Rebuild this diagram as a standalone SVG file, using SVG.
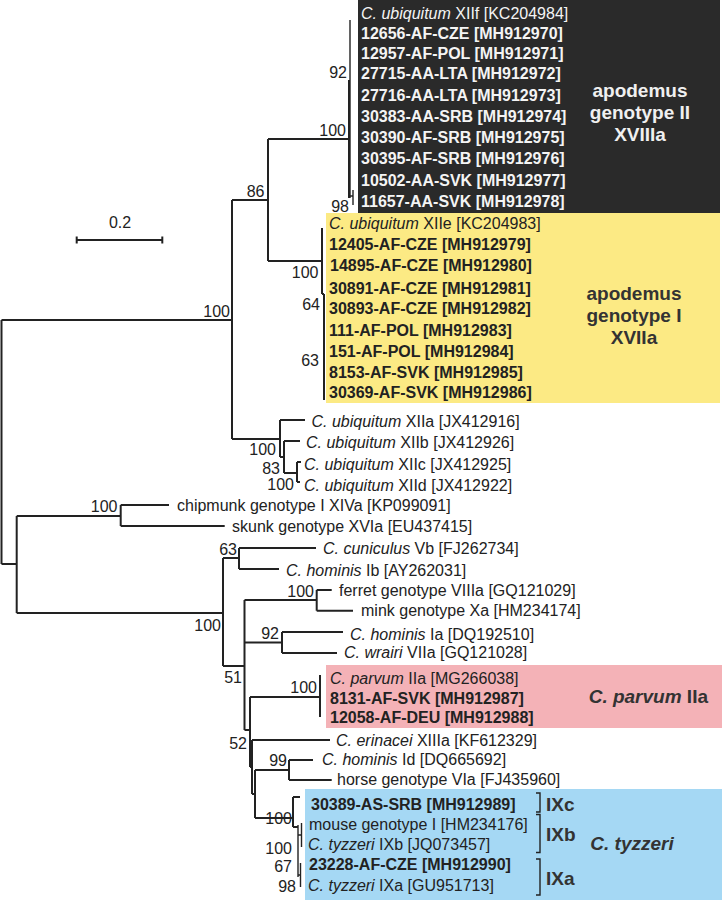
<svg xmlns="http://www.w3.org/2000/svg" width="722" height="900" viewBox="0 0 722 900">
<style>
text{font-family:"Liberation Sans",Arial,Helvetica,sans-serif;font-size:16px;fill:#222}
.b{font-weight:bold}
.i{font-style:italic}
.w{fill:#f4f4f4}
.bs{text-anchor:end}
.big{font-size:19px;font-weight:bold;fill:#333;text-anchor:middle}
.bigw{font-size:19px;font-weight:bold;fill:#f0f0f0;text-anchor:middle}
.ln{fill:none;stroke:#222;stroke-width:2}
.thin{fill:none;stroke:#222;stroke-width:1.4}
</style>
<rect width="722" height="900" fill="#ffffff"/>
<g id="box-apodemus-II"><rect x="358" y="0" width="362" height="213" fill="#2a2a2a"/>
<text class="bigw" x="640" y="97">apodemus</text><text class="bigw" x="640" y="119">genotype II</text><text class="bigw" x="640" y="141">XVIIIa</text></g>
<g id="box-apodemus-I"><rect x="326" y="213" width="394" height="190" fill="#fcea84"/>
<text class="big" x="634" y="300">apodemus</text><text class="big" x="634" y="322">genotype I</text><text class="big" x="634" y="344">XVIIa</text></g>
<g id="box-parvum"><rect x="326" y="665" width="396" height="63" fill="#f4b2b7"/>
<text class="big" x="708" y="703" style="text-anchor:end"><tspan class="i">C. parvum</tspan> IIa</text></g>
<g id="box-tyzzeri"><rect x="305" y="789" width="417" height="111" fill="#a5d8f4"/>
<text class="big" x="632" y="850"><tspan class="i">C. tyzzeri</tspan></text>
<path class="thin" d="M536,793 H540 V812 H536 M536,814.5 H540 V852.5 H536 M536,859 H540 V895 H536"/>
<text class="big" x="546" y="810.5" style="text-anchor:start">IXc</text>
<text class="big" x="546" y="840.5" style="text-anchor:start">IXb</text>
<text class="big" x="546" y="885" style="text-anchor:start">IXa</text></g>
<g id="connectors">
<path class="ln" d="M1.5,320 V564 M1.5,320 H232 M1.5,564 H16.7"/>
<path class="ln" d="M232,200 V439 M232,200 H268 M232,439 H280"/>
<path class="ln" d="M268,139 V261 M268,139 H349 M268,261 H322"/>
<path class="thin" d="M350,20 V198 M350,196 H353 M353,190 V205"/>
<path class="ln" d="M349,80 V198"/>
<path class="ln" d="M322,228 V294 M322,294 H324 M324,294 V400"/>
<path class="ln" d="M280,420 V457 M280,420 H305 M280,457 H284"/>
<path class="ln" d="M284,441 V473 M284,441 H300 M284,473 H297"/>
<path class="ln" d="M297,462 V482 M297,462 H301 M297,482 H300"/>
<path class="ln" d="M16.7,516 V613 M16.7,516 H120.7 M16.7,613 H223"/>
<path class="ln" d="M120.7,505 V526 M120.7,505 H169 M120.7,526 H224.7"/>
<path class="ln" d="M223,558 V666 M223,558 H239 M223,666 H244.5"/>
<path class="ln" d="M239,548 V569 M239,548 H316 M239,569 H279"/>
<path class="ln" d="M244.5,600 V730 M244.5,600 H316.7 M244.5,642.5 H282 M244.5,730 H250"/>
<path class="ln" d="M316.7,590 V610.7 M316.7,590 H331.7 M316.7,610.7 H353"/>
<path class="ln" d="M282,632 V653 M282,632 H343 M282,653 H337"/>
<path class="ln" d="M250,697 V767 M250,697 H320 M250,767 H252"/>
<path class="ln" d="M320,675 V717"/>
<path class="ln" d="M252,740 V794 M252,740 H330 M252,794 H255"/>
<path class="ln" d="M255,770 V818 M255,770 H289 M255,818 H293"/>
<path class="ln" d="M289,760 V780 M289,760 H313 M289,780 H331.7"/>
<path class="ln" d="M293,797 V827 M293,797 H300 M293,827 H298"/>
<path class="thin" d="M298,825 V877 M298,835 H301.5 M298,875 H300.5 M301.5,823 V847 M300.5,863 V887"/>
</g>
<g id="scale-bar"><path class="ln" d="M76.7,240 H162.3 M76.7,236.5 V243.5 M162.3,236.5 V243.5"/><text x="120" y="228" text-anchor="middle">0.2</text></g>
<g id="bootstrap">
<text class="bs" x="347" y="78">92</text>
<text class="bs" x="346" y="136">100</text>
<text class="bs" x="349" y="211.5">98</text>
<text class="bs" x="264.5" y="197">86</text>
<text class="bs" x="230" y="317">100</text>
<text class="bs" x="318.5" y="278">100</text>
<text class="bs" x="320" y="310">64</text>
<text class="bs" x="319" y="366">63</text>
<text class="bs" x="276" y="455">100</text>
<text class="bs" x="280" y="474">83</text>
<text class="bs" x="294" y="490">100</text>
<text class="bs" x="117.5" y="512">100</text>
<text class="bs" x="237" y="555">63</text>
<text class="bs" x="221" y="631">100</text>
<text class="bs" x="314" y="597">100</text>
<text class="bs" x="279" y="639">92</text>
<text class="bs" x="242" y="683">51</text>
<text class="bs" x="317" y="693">100</text>
<text class="bs" x="247" y="749">52</text>
<text class="bs" x="287" y="766">99</text>
<text class="bs" x="292" y="824">100</text>
<text class="bs" x="292" y="854">100</text>
<text class="bs" x="292" y="872">67</text>
<text class="bs" x="296" y="892">98</text>
</g>
<g id="tips-apodemus-II">
<text class="w" x="361" y="18.5"><tspan class="i">C. ubiquitum</tspan> XIIf [KC204984]</text>
<text class="w b" x="361" y="38.5">12656-AF-CZE [MH912970]</text>
<text class="w b" x="361" y="58.5">12957-AF-POL [MH912971]</text>
<text class="w b" x="361" y="78.5">27715-AA-LTA [MH912972]</text>
<text class="w b" x="361" y="100.5">27716-AA-LTA [MH912973]</text>
<text class="w b" x="361" y="121.5">30383-AA-SRB [MH912974]</text>
<text class="w b" x="361" y="142.5">30390-AF-SRB [MH912975]</text>
<text class="w b" x="361" y="164">30395-AF-SRB [MH912976]</text>
<text class="w b" x="361" y="185.5">10502-AA-SVK [MH912977]</text>
<text class="w b" x="361" y="207">11657-AA-SVK [MH912978]</text>
</g>
<g id="tips-apodemus-I">
<text x="329" y="228.5"><tspan class="i">C. ubiquitum</tspan> XIIe [KC204983]</text>
<text class="b" x="329" y="250">12405-AF-CZE [MH912979]</text>
<text class="b" x="330" y="271">14895-AF-CZE [MH912980]</text>
<text class="b" x="329" y="293.5">30891-AF-CZE [MH912981]</text>
<text class="b" x="329" y="314">30893-AF-CZE [MH912982]</text>
<text class="b" x="329" y="335.5">111-AF-POL [MH912983]</text>
<text class="b" x="329" y="356.5">151-AF-POL [MH912984]</text>
<text class="b" x="329" y="378">8153-AF-SVK [MH912985]</text>
<text class="b" x="329" y="398">30369-AF-SVK [MH912986]</text>
</g>
<g id="tips-ubiquitum">
<text x="311.5" y="426.5"><tspan class="i">C. ubiquitum</tspan> XIIa [JX412916]</text>
<text x="306" y="448"><tspan class="i">C. ubiquitum</tspan> XIIb [JX412926]</text>
<text x="304" y="469.5"><tspan class="i">C. ubiquitum</tspan> XIIc [JX412925]</text>
<text x="304" y="491"><tspan class="i">C. ubiquitum</tspan> XIId [JX412922]</text>
</g>
<g id="tip-chipmunk"><text x="177" y="510.5">chipmunk genotype I XIVa [KP099091]</text></g>
<g id="tip-skunk"><text x="232" y="531.5">skunk genotype XVIa [EU437415]</text></g>
<g id="tip-cuniculus"><text x="323" y="554"><tspan class="i">C. cuniculus</tspan> Vb [FJ262734]</text></g>
<g id="tip-hominis-Ib"><text x="286" y="575.5"><tspan class="i">C. hominis</tspan> Ib [AY262031]</text></g>
<g id="tip-ferret"><text x="339" y="595.5">ferret genotype VIIIa [GQ121029]</text></g>
<g id="tip-mink"><text x="361" y="616">mink genotype Xa [HM234174]</text></g>
<g id="tip-hominis-Ia"><text x="350" y="639.5"><tspan class="i">C. hominis</tspan> Ia [DQ192510]</text></g>
<g id="tip-wrairi"><text x="344" y="657.5"><tspan class="i">C. wrairi</tspan> VIIa [GQ121028]</text></g>
<g id="tips-parvum">
<text x="330" y="683.5"><tspan class="i">C. parvum</tspan> IIa [MG266038]</text>
<text class="b" x="330" y="703.5">8131-AF-SVK [MH912987]</text>
<text class="b" x="330" y="722.5">12058-AF-DEU [MH912988]</text>
</g>
<g id="tip-erinacei"><text x="336" y="746"><tspan class="i">C. erinacei</tspan> XIIIa [KF612329]</text></g>
<g id="tip-hominis-Id"><text x="322" y="765"><tspan class="i">C. hominis</tspan> Id [DQ665692]</text></g>
<g id="tip-horse"><text x="337" y="785">horse genotype VIa [FJ435960]</text></g>
<g id="tips-tyzzeri">
<text class="b" x="311" y="809.5">30389-AS-SRB [MH912989]</text>
<text x="309" y="829.5">mouse genotype I [HM234176]</text>
<text x="308" y="850"><tspan class="i">C. tyzzeri</tspan> IXb [JQ073457]</text>
<text class="b" x="309" y="870">23228-AF-CZE [MH912990]</text>
<text x="308" y="890.5"><tspan class="i">C. tyzzeri</tspan> IXa [GU951713]</text>
</g>
</svg>
